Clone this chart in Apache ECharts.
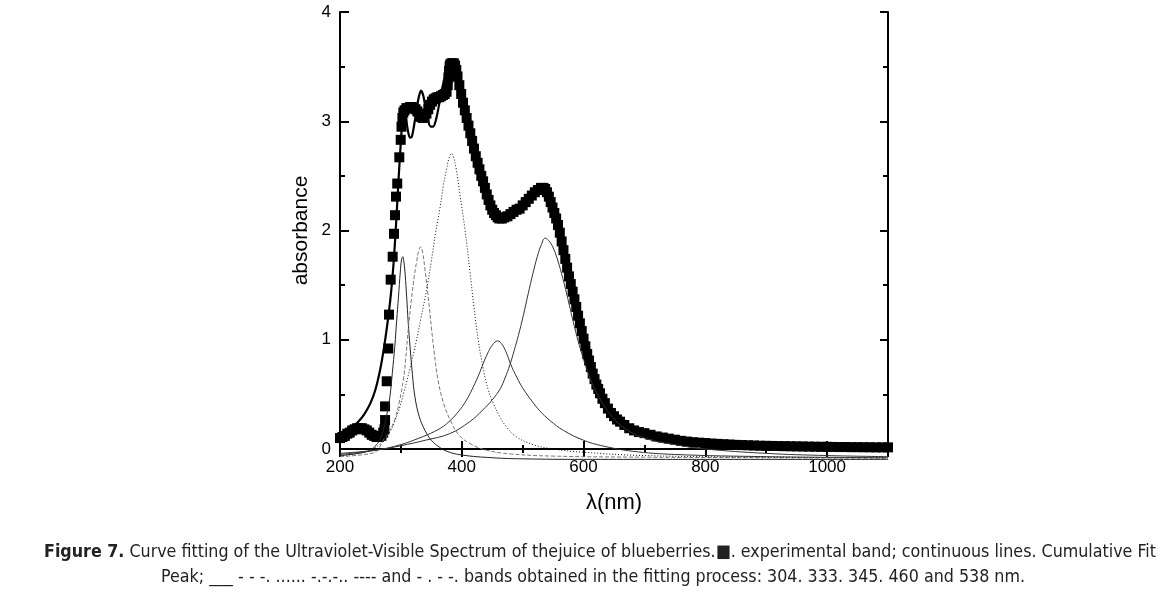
<!DOCTYPE html>
<html>
<head>
<meta charset="utf-8">
<script src="https://cdn.jsdelivr.net/npm/echarts@6/dist/echarts.min.js"></script>
<style>
  html, body { margin: 0; padding: 0; background: #fff; }
  #chart { width: 1167px; height: 592px; }
</style>
</head>
<body>
<div id="chart"></div>
<script>
// axis ticks
const xTicks = [200, 400, 600, 800, 1000];
const yTicks = [0, 1, 2, 3, 4];

// caption lines
const captionLines = [
  '{b|Figure 7.} Curve fitting of the Ultraviolet-Visible Spectrum of thejuice of blueberries.■. experimental band; continuous lines. Cumulative Fit',
  'Peak; ___ - - -. ...... -.-.-.. ---- and - . - -. bands obtained in the fitting process: 304. 333. 345. 460 and 538 nm.'
];

// experimental band (squares) [nm, absorbance]
const expData = [
  [200,0.10],[204,0.11],[208,0.12],[212,0.14],[216,0.15],[220,0.17],[224,0.18],[228,0.19],[232,0.19],[236,0.19],
  [240,0.18],[244,0.17],[248,0.15],[252,0.13],[256,0.12],[260,0.11],[264,0.11],[268,0.12],[271,0.15],[273,0.18],
  [274,0.265],[274,0.39],[276.7,0.62],[279.3,0.92],[280.5,1.23],[283.2,1.55],[286.5,1.76],[288.7,1.97],[290.3,2.14],
  [292,2.31],[294,2.43],[297.4,2.67],[299.7,2.83],[301,2.95],[302.5,3.03],[304,3.08],[306,3.10],[309,3.12],[312,3.12],
  [315,3.13],[318,3.13],[321,3.12],[324,3.11],[327,3.09],[330,3.06],[333,3.04],[336,3.03],[339,3.04],[342,3.07],
  [345,3.11],[348,3.15],[351,3.18],[354,3.20],[357,3.21],[360,3.22],[363,3.22],[366,3.23],[369,3.24],[372,3.25],
  [375,3.27],[377,3.33],[378,3.40],[379,3.46],[380,3.50],[381,3.52],[383,3.53],[385,3.53],[387,3.53],[389,3.51],
  [391,3.47],[393,3.41],[396,3.33],[399,3.25],[402,3.17],[405,3.10],[408,3.03],[411,2.96],[414,2.89],[417,2.82],
  [420,2.75],[423,2.68],[426,2.62],[429,2.56],[432,2.50],[435,2.45],[438,2.39],[441,2.33],[444,2.28],[447,2.23],
  [450,2.19],[453,2.16],[456,2.14],[459,2.12],[462,2.11],[466,2.11],[470,2.12],[475,2.13],[480,2.15],[485,2.17],
  [490,2.19],[495,2.20],[500,2.23],[505,2.26],[510,2.29],[515,2.32],[520,2.35],[525,2.37],[530,2.39],[534,2.39],
  [537,2.38],[540,2.35],[543,2.31],[546,2.26],[549,2.21],[552,2.16],[555,2.11],[558,2.05],[561,1.98],[564,1.90],
  [567,1.82],[570,1.74],[573,1.66],[576,1.58],[579,1.51],[582,1.44],[585,1.37],[588,1.30],[591,1.22],[594,1.15],
  [597,1.08],[600,1.01],[603,0.94],[606,0.87],[609,0.81],[612,0.75],[615,0.69],[618,0.64],[621,0.59],[624,0.55],
  [627,0.51],[631,0.46],[635,0.42],[640,0.37],[645,0.33],[650,0.30],[655,0.27],[660,0.25],[667,0.22],[675,0.19],
  [683,0.17],[691,0.155],[700,0.145],[710,0.13],[720,0.115],[730,0.105],[740,0.095],[750,0.085],[760,0.075],
  [770,0.068],[780,0.062],[790,0.058],[800,0.055],[810,0.05],[820,0.047],[830,0.044],[840,0.041],[850,0.038],
  [860,0.036],[870,0.034],[880,0.032],[890,0.03],[900,0.029],[910,0.028],[920,0.027],[930,0.026],[940,0.025],
  [950,0.024],[960,0.023],[970,0.022],[980,0.021],[990,0.02],[1000,0.02],[1010,0.019],[1020,0.018],[1030,0.018],
  [1040,0.017],[1050,0.017],[1060,0.016],[1070,0.016],[1080,0.015],[1090,0.015],[1100,0.015]
];

// cumulative fit peak
const cumFit = [
  [200,0.13],[210,0.16],[220,0.2],[230,0.25],[240,0.32],[250,0.42],[258,0.54],[265,0.7],[270,0.85],[275,1.03],
  [280,1.24],[284,1.44],[288,1.7],[292,2.05],[296,2.45],[300,2.82],[303,3.02],[306,3.08],[309,3.0],[312,2.9],
  [315,2.85],[318,2.86],[321,2.94],[325,3.08],[329,3.21],[333,3.28],[337,3.23],[341,3.1],[345,3.0],[349,2.95],
  [353,2.95],[357,3.0],[361,3.1],[365,3.22],[369,3.33],[373,3.42],[377,3.49],[381,3.53],[385,3.54],[389,3.5],
  [393,3.41],[397,3.3],[401,3.19],[405,3.1],[410,2.99],[415,2.87],[420,2.75],[425,2.64],[430,2.54],[436,2.44],
  [442,2.32],[448,2.22],[455,2.15],[463,2.11],[472,2.12],[482,2.16],[492,2.2],[502,2.24],[512,2.31],[522,2.36],
  [532,2.39],[538,2.37],[544,2.29],[550,2.18],[556,2.08],[562,1.95],[568,1.8],[574,1.64],[580,1.49],[586,1.35],
  [592,1.2],[598,1.06],[604,0.92],[610,0.79],[616,0.68],[622,0.58],[630,0.47],[640,0.37],[650,0.3],[665,0.23],
  [680,0.18],[700,0.14],[750,0.08],[800,0.05],[900,0.03],[1000,0.02],[1100,0.015]
];

// fitted bands
const band304 = [
  [200,-0.06],[230,-0.04],[250,-0.01],[260,0.04],[266,0.09],[271,0.17],[276,0.29],[282,0.48],[286,0.7],[290,0.94],
  [293,1.17],[296,1.39],[299,1.62],[301,1.73],[303,1.76],[305,1.71],[307,1.6],[309.5,1.39],[312,1.16],[315,0.94],
  [319,0.68],[323,0.48],[330,0.3],[339.6,0.17],[350,0.08],[360,0.03],[375,-0.02],[400,-0.055],[450,-0.08],
  [500,-0.09],[600,-0.095],[800,-0.095],[1100,-0.095]
];
const band333 = [
  [200,-0.07],[240,-0.05],[260,-0.02],[271,0.08],[280,0.15],[290,0.27],[297,0.42],[304,0.63],[308,0.83],[312,1.09],
  [317.7,1.39],[322,1.58],[326,1.72],[329.5,1.82],[332.5,1.85],[336,1.79],[339.6,1.64],[345,1.39],[350.5,1.09],
  [355,0.87],[361,0.63],[370,0.42],[380.6,0.27],[395,0.13],[413.5,0.05],[440,-0.01],[480,-0.045],[550,-0.065],
  [700,-0.075],[900,-0.08],[1100,-0.085]
];
const band345 = [
  [200,-0.06],[240,-0.03],[260,0.02],[280,0.14],[295,0.33],[305,0.52],[315,0.74],[325,0.98],[333,1.2],[342,1.45],
  [350,1.72],[357,1.98],[364,2.2],[370,2.42],[375,2.56],[379,2.66],[383.4,2.705],[387,2.66],[391,2.56],[397,2.33],
  [405,2.02],[413.5,1.62],[420,1.3],[427,1.0],[435,0.74],[443,0.55],[451.7,0.42],[462,0.3],[473.7,0.2],[490,0.11],
  [517,0.04],[550,0.0],[600,-0.03],[700,-0.06],[900,-0.075],[1100,-0.08]
];
const band460 = [
  [200,-0.05],[260,-0.01],[300,0.04],[330,0.1],[355,0.16],[375,0.23],[397,0.36],[410,0.47],[419,0.57],[428,0.68],
  [435,0.78],[442,0.87],[450,0.95],[459,0.99],[467,0.95],[474,0.87],[480,0.78],[490,0.66],[501,0.55],[515,0.44],
  [528,0.35],[545,0.26],[567,0.17],[600,0.08],[630,0.03],[680,-0.02],[750,-0.05],[900,-0.07],[1100,-0.08]
];
const band538 = [
  [200,-0.04],[260,-0.01],[300,0.03],[340,0.08],[380,0.14],[413,0.25],[435,0.36],[450,0.45],[463,0.55],[471,0.65],
  [479,0.77],[486,0.9],[493,1.04],[501,1.22],[509,1.42],[517,1.61],[524,1.76],[530,1.86],[537,1.93],[544,1.9],
  [551,1.83],[558,1.72],[566,1.56],[574,1.38],[585,1.12],[594,0.93],[608,0.69],[621,0.52],[641,0.34],[665,0.2],
  [700,0.1],[750,0.04],[800,0.0],[900,-0.04],[1000,-0.06],[1100,-0.07]
];

const chart = echarts.init(document.getElementById('chart'));

const fontAx = '"Liberation Sans", Arial, sans-serif';
const fontCap = '"Liberation Sans Narrow", "DejaVu Sans Condensed", "Liberation Sans", Arial, sans-serif';

function bandLine(data, color, type) {
  return {
    type: 'line',
    data: data,
    smooth: 0.4,
    showSymbol: false,
    clip: false,
    silent: true,
    lineStyle: { color: color, width: 1, type: type }
  };
}

function captionText(text, x, y) {
  return {
    type: 'text',
    x: x,
    y: y,
    silent: true,
    style: {
      text: text,
      fontFamily: fontCap,
      fontSize: 17.7,
      fill: '#222',
      align: 'center',
      verticalAlign: 'middle',
      rich: { b: { fontFamily: fontCap, fontSize: 17.7, fontWeight: 'bold', fill: '#222' } }
    }
  };
}

const mirrorX = {
  type: 'value', min: 200, max: 1100, interval: 200, position: 'top',
  axisLine: { show: true, lineStyle: { color: '#000', width: 2 } },
  axisTick: { show: true, inside: true, length: 8, lineStyle: { color: '#000', width: 2 } },
  minorTick: { show: true, splitNumber: 2, length: 4, lineStyle: { color: '#000', width: 2 } },
  axisLabel: { show: false }, splitLine: { show: false }
};
const mirrorY = {
  type: 'value', min: 0, max: 4, interval: 1, position: 'right',
  axisLine: { show: true, lineStyle: { color: '#000', width: 2 } },
  axisTick: { show: true, inside: true, length: 8, lineStyle: { color: '#000', width: 2 } },
  minorTick: { show: true, splitNumber: 2, length: 5, lineStyle: { color: '#000', width: 2 } },
  axisLabel: { show: false }, splitLine: { show: false }
};

chart.setOption({
  animation: false,
  backgroundColor: '#fff',
  graphic: [
    captionText(captionLines[0], 600, 552),
    captionText(captionLines[1], 593, 577)
  ],
  grid: { left: 340, right: 279, top: 12, bottom: 143 },
  xAxis: [{
    type: 'value', min: 200, max: 1100, interval: 200, position: 'bottom',
    name: 'λ(nm)', nameLocation: 'middle', nameGap: 43,
    nameTextStyle: { fontFamily: fontAx, fontSize: 22, color: '#000' },
    axisLine: { show: true, lineStyle: { color: '#000', width: 2 } },
    axisTick: { show: true, inside: true, length: 8, lineStyle: { color: '#000', width: 2 } },
    minorTick: { show: true, splitNumber: 2, length: 4, lineStyle: { color: '#000', width: 2 } },
    axisLabel: {
      fontFamily: fontAx, fontSize: 17, color: '#000', margin: 10,
      formatter: v => xTicks.includes(v) ? String(v) : ''
    },
    splitLine: { show: false }
  }, mirrorX],
  yAxis: [{
    type: 'value', min: 0, max: 4, interval: 1, position: 'left',
    name: 'absorbance', nameLocation: 'middle', nameGap: 28, nameRotate: 90,
    nameTextStyle: { fontFamily: fontAx, fontSize: 21, color: '#000' },
    axisLine: { show: true, lineStyle: { color: '#000', width: 2 } },
    axisTick: { show: true, inside: true, length: 9, lineStyle: { color: '#000', width: 2 } },
    minorTick: { show: true, splitNumber: 2, length: 5, lineStyle: { color: '#000', width: 2 } },
    axisLabel: {
      fontFamily: fontAx, fontSize: 17, color: '#000', margin: 9,
      formatter: v => yTicks.includes(v) ? String(v) : ''
    },
    splitLine: { show: false }
  }, mirrorY],
  series: [
    bandLine(band304, '#222', 'solid'),
    bandLine(band333, '#777', [4, 2]),
    bandLine(band345, '#111', [1, 2]),
    bandLine(band460, '#333', 'solid'),
    bandLine(band538, '#333', 'solid'),
    {
      type: 'scatter',
      data: expData,
      symbol: 'rect',
      symbolSize: 10,
      silent: true,
      itemStyle: { color: '#000', opacity: 1 }
    },
    {
      type: 'line',
      data: cumFit,
      smooth: 0.3,
      showSymbol: false,
      clip: false,
      silent: true,
      lineStyle: { color: '#000', width: 2.2 }
    }
  ]
});
</script>
</body>
</html>
